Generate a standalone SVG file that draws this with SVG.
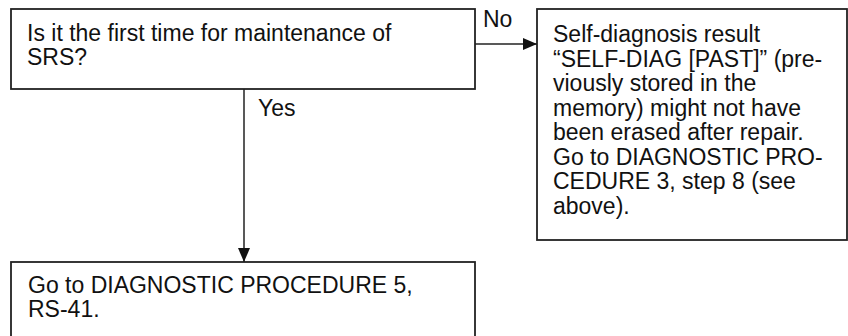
<svg xmlns="http://www.w3.org/2000/svg" width="848" height="336" viewBox="0 0 848 336">
<style>
.box{fill:#fff;stroke:#222;stroke-width:1.8}
.t{font-family:"Liberation Sans",Arial,sans-serif;font-size:23px;fill:#111}
.c{stroke:#222;stroke-width:1.5;fill:none}
</style>
<defs>
<marker id="ah" markerWidth="14" markerHeight="12" refX="14" refY="6" orient="auto" markerUnits="userSpaceOnUse">
<path d="M0,0 L14,6 L0,12 Z" fill="#111"/>
</marker>
</defs>
<rect width="848" height="336" fill="#fff"/>
<g id="q1">
<rect class="box" x="11" y="9" width="464" height="80"/>
<text class="t" x="27" y="41">Is it the first time for maintenance of</text>
<text class="t" x="27" y="65">SRS?</text>
</g>
<g id="r1">
<rect class="box" x="537" y="9" width="310" height="231"/>
<text class="t" x="553" y="42">Self-diagnosis result</text>
<text class="t" x="553" y="66.5">“SELF-DIAG [PAST]” (pre-</text>
<text class="t" x="553" y="91">viously stored in the</text>
<text class="t" x="553" y="115.5">memory) might not have</text>
<text class="t" x="553" y="140">been erased after repair.</text>
<text class="t" x="553" y="164.5">Go to DIAGNOSTIC PRO-</text>
<text class="t" x="553" y="189">CEDURE 3, step 8 (see</text>
<text class="t" x="553" y="213.5">above).</text>
</g>
<g id="r2">
<rect class="box" x="11" y="262" width="464" height="80"/>
<text class="t" x="28" y="293">Go to DIAGNOSTIC PROCEDURE 5,</text>
<text class="t" x="28" y="317">RS-41.</text>
</g>
<g id="connectors">
<line class="c" x1="475" y1="44" x2="537" y2="44" marker-end="url(#ah)"/>
<line class="c" x1="244" y1="89" x2="244" y2="262" marker-end="url(#ah)"/>
<text class="t" x="483" y="27">No</text>
<text class="t" x="258" y="116">Yes</text>
</g>
</svg>
